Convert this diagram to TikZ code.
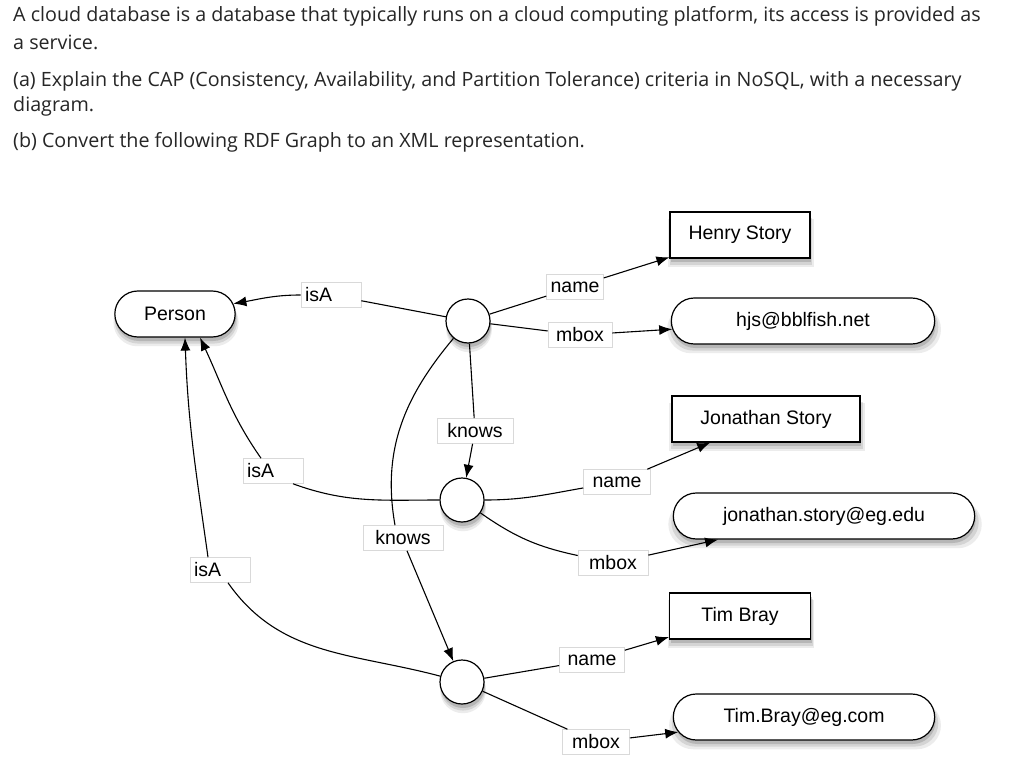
\documentclass[tikz,border=0pt]{standalone}
\usepackage{fontspec}
\setmainfont{Open Sans}
\newfontfamily\graphfont{Liberation Sans}
\usetikzlibrary{arrows.meta,shadows,shapes.misc}

\begin{document}
\begin{tikzpicture}[
      x = 1pt, y = 1pt,
      font = \graphfont\fontsize{19.5}{22}\selectfont,
      qtext/.style={
        anchor = base west,
        inner sep = 0pt,
        text = black!85,
        font = \rmfamily\fontsize{19.7}{22}\selectfont,
      },
      shadowed/.style={
        drop shadow = {opacity = .15, shadow xshift = 1pt, shadow yshift = -8pt, shadow scale = 1.04},
        drop shadow = {opacity = .22, shadow xshift = 1pt, shadow yshift = -6pt, shadow scale = 1.02},
        drop shadow = {opacity = .35, shadow xshift = 1pt, shadow yshift = -4pt},
      },
      blank/.style={
        circle, draw, line width = 1.2pt, fill = white, shadowed,
        minimum size = 44pt, inner sep = 0pt,
      },
      lit/.style={
        rectangle, draw, line width = 1.2pt, fill = white, shadowed,
        minimum height = 46pt, inner xsep = 14pt,
      },
      res/.style={
        rounded rectangle, draw, line width = 1.2pt, fill = white, shadowed,
        minimum height = 46pt,
      },
      lbl/.style={
        draw = black!15, fill = white, line width = .6pt,
        minimum height = 25pt, minimum width = 56pt,
        inner xsep = 4pt, inner ysep = 1pt,
      },
      isa/.style={lbl, text width = 52pt},
      rel/.style={line width = 1.1pt},
      arr/.style={rel, -{Latex[length = 13pt, width = 10pt]}},
    ]
    \fill[white] (0,0) rectangle (1024,-778);
    \useasboundingbox (0,0) rectangle (1024,-778);

    \node[qtext] (q1) at (13,-22) {A cloud database is a database that typically runs on a cloud computing platform, its access is provided as};
    \node[qtext] (q2) at (13,-50) {a service.};
    \node[qtext] (q3) at (13,-87) {(a) Explain the CAP (Consistency, Availability, and Partition Tolerance) criteria in NoSQL, with a necessary};
    \node[qtext] (q4) at (13,-112) {diagram.};
    \node[qtext] (q5) at (13,-148) {(b) Convert the following RDF Graph to an XML representation.};

    \node[res, minimum width = 127pt] (person) at (175,-314) {Person};

    \node[blank] (b1) at (468,-321) {};
    \node[blank] (b2) at (462,-500) {};
    \node[blank] (b3) at (462,-682) {};

    \node[lit, minimum width = 140pt] (henry) at (740,-235) {Henry Story};
    \node[res, minimum width = 270pt] (hjs) at (803,-321) {hjs@bblfish.net};
    \node[lit, minimum width = 188pt] (jon) at (766,-419) {Jonathan Story};
    \node[res, minimum width = 308pt] (jonmail) at (824,-516) {jonathan.story@eg.edu};
    \node[lit, minimum width = 141pt] (tim) at (740,-616) {Tim Bray};
    \node[res, minimum width = 268pt] (timmail) at (804,-717) {Tim.Bray@eg.com};

    \node[isa] (isaA) at (331,-295) {isA};
    \node[lbl] (nameA) at (575,-287) {name};
    \node[lbl, minimum width = 64pt] (mboxA) at (580,-335) {mbox};
    \node[lbl, minimum width = 76pt] (knowsA) at (475,-431) {knows};
    \node[isa] (isaB) at (273,-471) {isA};
    \node[lbl, minimum width = 67pt] (nameB) at (617,-482) {name};
    \node[lbl, minimum width = 80pt] (knowsB) at (403,-538) {knows};
    \node[lbl, minimum width = 70pt] (mboxB) at (613,-563) {mbox};
    \node[isa] (isaC) at (220,-570) {isA};
    \node[lbl, minimum width = 65pt] (nameC) at (592,-660) {name};
    \node[lbl, minimum width = 67pt] (mboxC) at (596,-742) {mbox};

    \draw[rel] (b1) -- (isaA);
    \draw[arr] (isaA.west) to[out=180, in=10] (person);
    \draw[rel] (b1) -- (nameA);
    \draw[arr] (nameA) -- (henry);
    \draw[rel] (b1) -- (mboxA);
    \draw[arr] (mboxA) -- (hjs);
    \draw[rel] (b1) -- (knowsA);
    \draw[arr] (knowsA) -- (b2);
    \draw[rel] (b1) to[out=-130, in=100] ([xshift=-8pt]knowsB.north);
    \draw[arr] ([xshift=4pt]knowsB.south) -- (b3);

    \draw[rel] (b2) to[out=180, in=-20] ([xshift=20pt]isaB.south);
    \draw[arr] ([xshift=-12pt]isaB.north) to[out=125, in=-65] ([xshift=25pt]person.south);
    \draw[rel] (b2) to[out=0, in=190] (nameB);
    \draw[arr] (nameB) -- (jon);
    \draw[rel] (b2) to[out=-35, in=168] (mboxB);
    \draw[arr] (mboxB) -- (jonmail);

    \draw[rel] (b3) to[out=165, in=-55] ([xshift=8pt]isaC.south);
    \draw[arr] ([xshift=-12pt]isaC.north) to[out=98, in=-88] ([xshift=10pt]person.south);
    \draw[rel] (b3) -- (nameC);
    \draw[arr] (nameC) -- (tim);
    \draw[rel] (b3) -- (mboxC);
    \draw[arr] (mboxC) -- (timmail);
  \end{tikzpicture}
\end{document}
